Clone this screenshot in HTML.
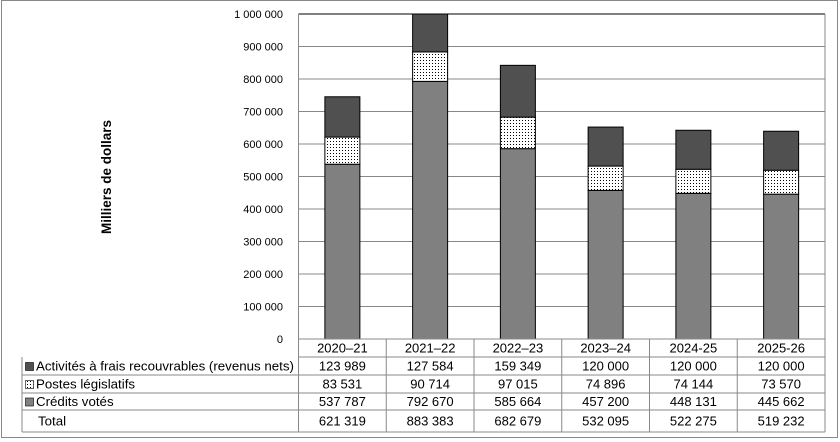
<!DOCTYPE html>
<html><head><meta charset="utf-8"><style>
html,body{margin:0;padding:0;background:#fff;}
svg{display:block;font-family:"Liberation Sans",Arial,sans-serif;}
</style></head><body>
<svg id="s" width="840" height="442" viewBox="0 0 840 442" xmlns="http://www.w3.org/2000/svg">
<defs>
<pattern id="dots" width="3" height="3" patternUnits="userSpaceOnUse">
<rect width="3" height="3" fill="#fff"/><rect width="1" height="1" fill="#000"/>
</pattern>
<clipPath id="pc"><rect x="298" y="14" width="528" height="326"/></clipPath>
</defs>
<rect x="1.5" y="0.5" width="836" height="437" fill="#fff" stroke="#888"/>
<g id="g"></g>
<text transform="translate(111,177) rotate(-90)" text-anchor="middle" font-size="13.5" font-weight="bold">Milliers de dollars</text>
</svg>
<script>
const g=document.getElementById('g');let h='';
const L=298.5,R=825,T=14,B=339,cw=(R-L)/6;
const y=v=>B-(B-T)*v/1000000;
for(let i=0;i<=10;i++){const yy=y(i*100000);
 h+=`<line x1="${L}" x2="${R}" y1="${yy}" y2="${yy}" stroke="#888"/>`;
 const lab=i==0?'0':(i==10?'1 000 000':(i*100)+' 000');
 h+=`<text x="283" y="${yy+4}" text-anchor="end" font-size="11">${lab}</text>`;}
const yrs=['2020–21','2021–22','2022–23','2023–24','2024-25','2025-26'];
const a=[123989,127584,159349,120000,120000,120000],p=[83531,90714,97015,74896,74144,73570],v=[537787,792670,585664,457200,448131,445662],t=[621319,883383,682679,532095,522275,519232];
const f=n=>n.toString().replace(/\B(?=(\d{3})+(?!\d))/g,' ');
h+='<g clip-path="url(#pc)">';
for(let i=0;i<6;i++){const cx=L+cw*(i+.5),x=cx-17.5;
 const y0=B,y1=y(v[i]),y2=y(v[i]+p[i]),y3=y(v[i]+p[i]+a[i]);
 h+=`<rect x="${x}" y="${y1}" width="35" height="${y0-y1}" fill="#808080" stroke="#000"/>`;
 h+=`<rect x="${x}" y="${y2}" width="35" height="${y1-y2}" fill="url(#dots)" stroke="#000"/>`;
 h+=`<rect x="${x}" y="${y3}" width="35" height="${y2-y3}" fill="#505050" stroke="#000"/>`;}
h+='</g>';
h+=`<line x1="${L}" x2="${R}" y1="${T}" y2="${T}" stroke="#000"/>`;
h+=`<line x1="${L}" x2="${L}" y1="${T}" y2="432" stroke="#888"/>`;
h+=`<line x1="${R}" x2="${R}" y1="${T}" y2="432" stroke="#888"/>`;
const rows=[339,357,375,393,410,432];
for(let k=1;k<6;k++){h+=`<line x1="${k==1?L:22}" x2="${R}" y1="${rows[k]}" y2="${rows[k]}" stroke="#888"/>`;}
h+=`<line x1="${L}" x2="${R}" y1="339" y2="339" stroke="#888"/>`;
h+=`<line x1="22" x2="22" y1="357" y2="432" stroke="#888"/>`;
for(let i=1;i<6;i++){const xx=L+cw*i;h+=`<line x1="${xx}" x2="${xx}" y1="339" y2="432" stroke="#888"/>`;}
const data=[yrs,a.map(f),p.map(f),v.map(f),t.map(f)];
for(let r=0;r<5;r++)for(let i=0;i<6;i++){const cx=L+cw*(i+.5),cy=(rows[r]+rows[r+1])/2+4.5;
 h+=`<text x="${cx}" y="${cy}" text-anchor="middle" font-size="13">${data[r][i]}</text>`;}
const labs=['Activités à frais recouvrables (revenus nets)','Postes législatifs','Crédits votés','Total'];
for(let r=0;r<4;r++){const cy=(rows[r+1]+rows[r+2])/2;
 if(r==0)h+=`<rect x="25.5" y="${cy-3.5}" width="8" height="8" fill="#505050" stroke="#000" stroke-width=".6"/>`;
 if(r==1)h+=`<rect x="25.5" y="${cy-3.5}" width="8" height="8" fill="url(#dots)" stroke="#000" stroke-width=".6"/>`;
 if(r==2)h+=`<rect x="25.5" y="${cy-3.5}" width="8" height="8" fill="#808080" stroke="#000" stroke-width=".6"/>`;
 h+=`<text x="${r==3?38:36}" y="${cy+4.5}" font-size="13.3">${labs[r]}</text>`;}
g.innerHTML=h;
</script>
</body></html>
